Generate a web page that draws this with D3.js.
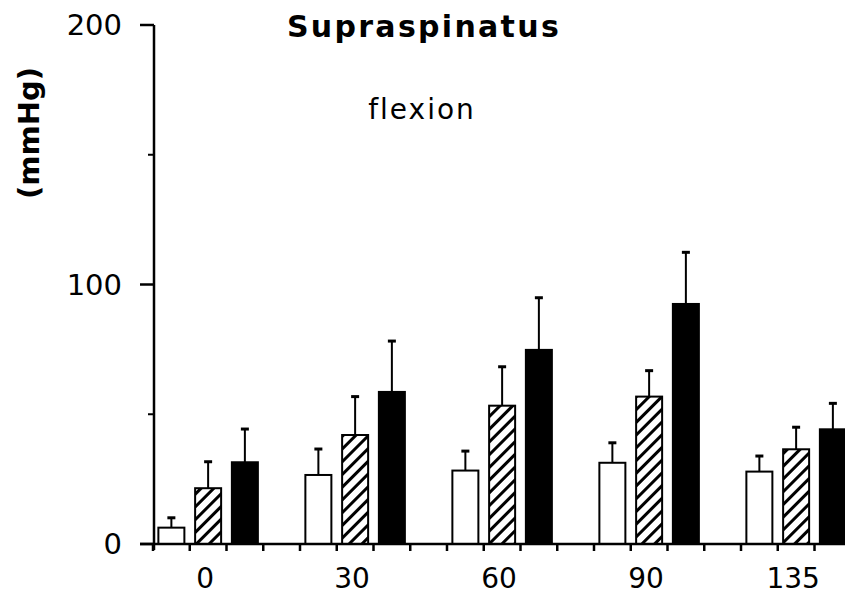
<!DOCTYPE html>
<html><head><meta charset="utf-8">
<script src="https://cdn.jsdelivr.net/npm/d3@7"></script>
<style>body{margin:0;background:#fff}</style>
</head><body>
<svg id="chart" width="845" height="595"></svg>
<script>
const categories = ["0","30","60","90","135"];
const seriesNames = ["open","hatched","solid"];
const openValues    = [6.3, 26.6, 28.3, 31.3, 27.9];
const openErrors    = [3.8, 10.0, 7.5, 7.7, 6.0];
const hatchedValues = [21.5, 42.0, 53.3, 56.8, 36.5];
const hatchedErrors = [10.2, 14.8, 15.0, 10.0, 8.5];
const solidValues   = [31.5, 58.6, 74.8, 92.5, 44.2];
const solidErrors   = [12.8, 19.6, 20.1, 19.9, 10.0];
const yTicksMajor = [0, 100, 200];
const yTicksMinor = [50, 150];
const title = "Supraspinatus";
const subtitle = "flexion";
const yLabel = "(mmHg)";

const svg = d3.select("#chart");
const font = "DejaVu Sans, Verdana, sans-serif";

const y = d3.scaleLinear().domain([0, 200]).range([544, 25]);
const x0 = d3.scaleBand().domain(categories).range([153, 888]).padding(0);
const slots = ["open","hatched","solid","gap"];
const x1 = d3.scaleBand().domain(slots).range([0, x0.bandwidth()]).padding(0);
const barW = 26;

// hatch pattern
const defs = svg.append("defs");
const pat = defs.append("pattern").attr("id","hatch")
  .attr("patternUnits","userSpaceOnUse").attr("width",9).attr("height",9)
  .attr("patternTransform","rotate(45)");
pat.append("rect").attr("width",9).attr("height",9).attr("fill","#fff");
pat.append("line").attr("x1",1.5).attr("y1",0).attr("x2",1.5).attr("y2",9)
  .attr("stroke","#000").attr("stroke-width",3);

const data = [];
categories.forEach((c, i) => {
  data.push({cat:c, s:"open", v:openValues[i], e:openErrors[i], fill:"#fff"});
  data.push({cat:c, s:"hatched", v:hatchedValues[i], e:hatchedErrors[i], fill:"url(#hatch)"});
  data.push({cat:c, s:"solid", v:solidValues[i], e:solidErrors[i], fill:"#000"});
});

const cx = d => x0(d.cat) + x1(d.s) + x1.bandwidth()/2;

// error bars
const eb = svg.append("g").attr("stroke","#000");
eb.selectAll("line.v").data(data).join("line")
  .attr("x1", cx).attr("x2", cx)
  .attr("y1", d => y(d.v)).attr("y2", d => y(d.v + d.e))
  .attr("stroke-width", 2);
eb.selectAll("line.c").data(data).join("line")
  .attr("x1", d => cx(d) - 4).attr("x2", d => cx(d) + 4)
  .attr("y1", d => y(d.v + d.e)).attr("y2", d => y(d.v + d.e))
  .attr("stroke-width", 3);

// bars
svg.append("g").selectAll("rect").data(data).join("rect")
  .attr("x", d => cx(d) - barW/2)
  .attr("width", barW)
  .attr("y", d => y(d.v))
  .attr("height", d => y(0) - y(d.v))
  .attr("fill", d => d.fill)
  .attr("stroke", "#000").attr("stroke-width", 2);

// y axis
const ax = svg.append("g").attr("stroke","#000");
ax.append("line").attr("x1",154).attr("x2",154).attr("y1",y(200)).attr("y2",y(0)+6).attr("stroke-width",2.5);
ax.selectAll("line.maj").data(yTicksMajor).join("line")
  .attr("x1",140).attr("x2",154).attr("y1",d=>y(d)).attr("y2",d=>y(d)).attr("stroke-width",2.5);
ax.selectAll("line.min").data(yTicksMinor).join("line")
  .attr("x1",148).attr("x2",154).attr("y1",d=>y(d)).attr("y2",d=>y(d)).attr("stroke-width",2);
svg.append("g").selectAll("text").data(yTicksMajor).join("text")
  .attr("x",122).attr("y",d=>y(d)).attr("dy","0.36em")
  .attr("text-anchor","end").attr("font-family",font).attr("font-size",29)
  .text(d=>d);

// x axis
const xTickPos = [];
categories.forEach(c => slots.forEach(s => xTickPos.push(x0(c) + x1(s))));
ax.append("line").attr("x1",140).attr("x2",845).attr("y1",y(0)).attr("y2",y(0)).attr("stroke-width",2.5);
ax.selectAll("line.xt").data(xTickPos).join("line")
  .attr("x1",d=>d).attr("x2",d=>d).attr("y1",y(0)).attr("y2",y(0)+7).attr("stroke-width",2.5);
svg.append("g").selectAll("text").data(categories).join("text")
  .attr("x", c => x0(c) + x1("hatched") + x1.bandwidth()/2 - 3)
  .attr("y", 588)
  .attr("text-anchor","middle").attr("font-family",font).attr("font-size",28)
  .text(c=>c);

// titles
svg.append("text").attr("x",424).attr("y",37).attr("text-anchor","middle")
  .attr("font-family",font).attr("font-weight","bold").attr("font-size",30)
  .attr("letter-spacing",2.3).text(title);
svg.append("text").attr("x",422).attr("y",119).attr("text-anchor","middle")
  .attr("font-family",font).attr("font-size",28).attr("letter-spacing",2).text(subtitle);
svg.append("text").attr("transform","translate(39,133) rotate(-90)")
  .attr("text-anchor","middle")
  .attr("font-family",font).attr("font-weight","bold").attr("font-size",29)
  .text(yLabel);
</script>
</body></html>
